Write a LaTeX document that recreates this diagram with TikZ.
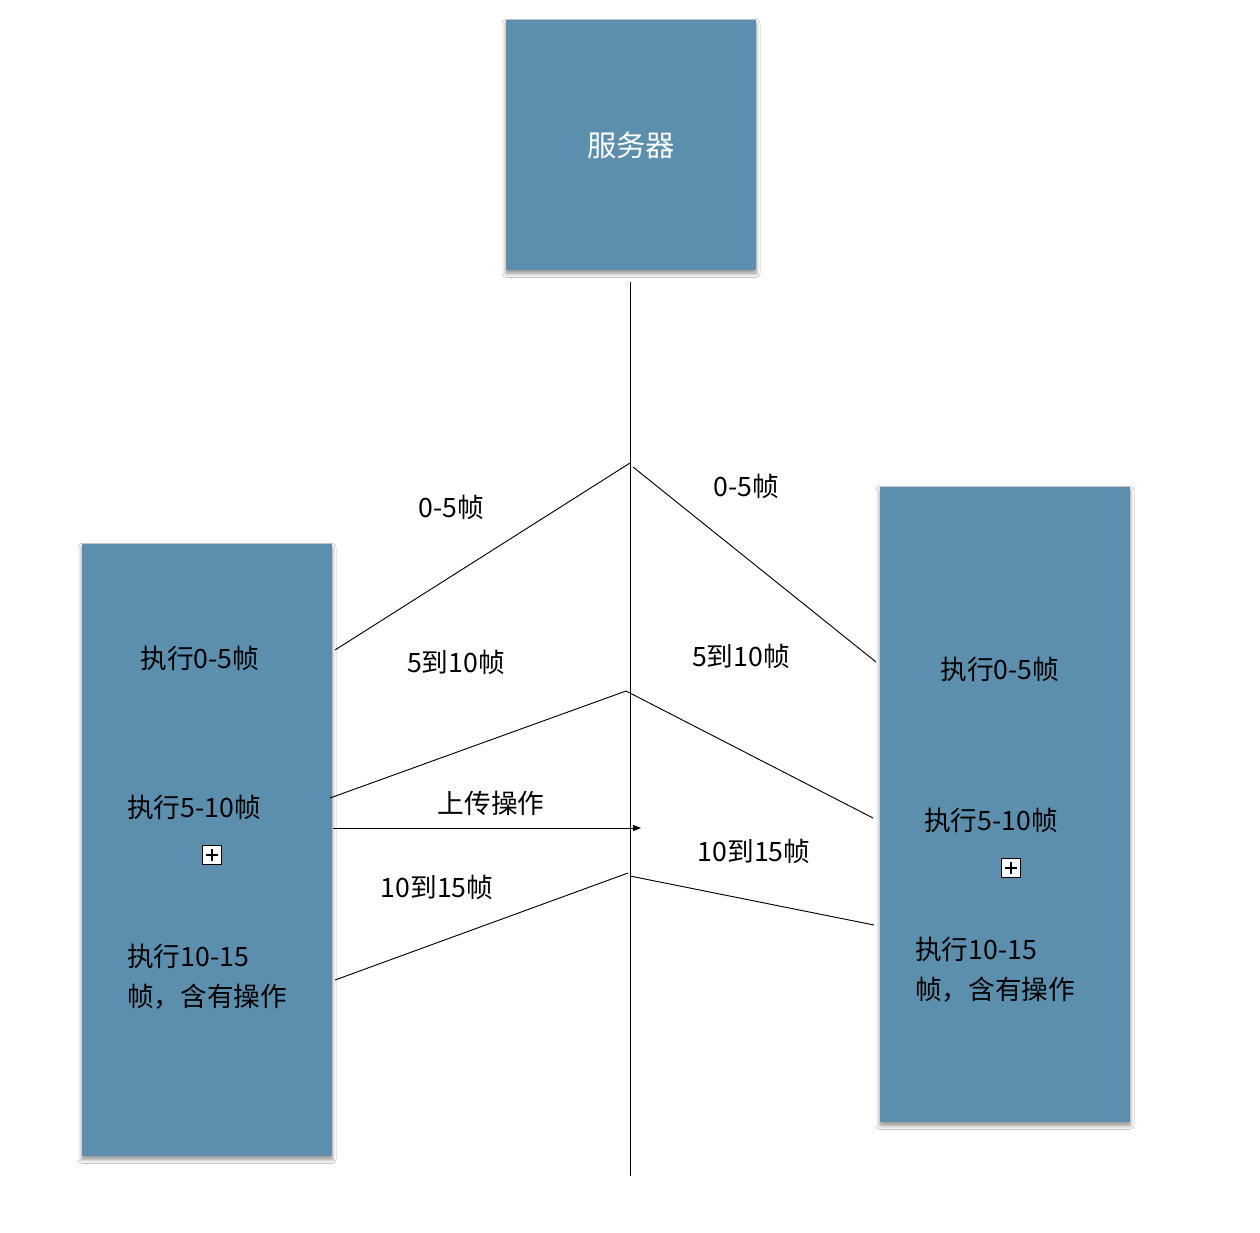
\documentclass[tikz,border=0pt]{standalone}
\usepackage{fontspec}
\setmainfont{Noto Sans CJK SC}
\usetikzlibrary{shadows.blur,arrows.meta}
\definecolor{boxblue}{HTML}{5B8FAD}
\begin{document}
\begin{tikzpicture}[x=0.75pt,y=-0.75pt,
  blk/.style={draw=none, fill=boxblue, inner sep=0pt,
    blur shadow={shadow xshift=0pt, shadow yshift=-2.5pt, shadow blur radius=3pt, shadow blur steps=6, shadow opacity=45}},
  lbl/.style={font=\fontsize{20}{30}\selectfont, inner sep=0pt},
  wire/.style={line width=0.7pt},
  plusbox/.style={draw, line width=0.9pt, fill=white, minimum size=14pt, inner sep=0pt,
    path picture={
      \draw[line width=0.9pt] ([yshift=-2.5pt]path picture bounding box.north) -- ([yshift=2.5pt]path picture bounding box.south);
      \draw[line width=0.9pt] ([xshift=2.5pt]path picture bounding box.west) -- ([xshift=-2.5pt]path picture bounding box.east);}}
]
\fill[white] (0,0) rectangle (1260,1232);
\useasboundingbox (0,0) rectangle (1260,1232);

% boxes
\node[blk, minimum width=187.5pt, minimum height=187.5pt, text=white,
  font=\fontsize{22}{26}\selectfont] (S) at (631,145) {服务器};
\node[blk, minimum width=187.5pt, minimum height=459pt] (L) at (207,850) {};
\node[blk, minimum width=187.5pt, minimum height=476.25pt] (R) at (1005,804.5) {};

% box texts
\node[lbl] (l1) at (200,658) {执行0-5帧};
\node[lbl] (l2) at (194,807) {执行5-10帧};
\node[plusbox] (lp) at (212,855) {};
\node[lbl, anchor=west, align=left] (l3) at (127,977) {执行10-15\\帧，含有操作};

\node[lbl] (r1) at (1000,669) {执行0-5帧};
\node[lbl] (r2) at (991,820) {执行5-10帧};
\node[plusbox] (rp) at (1011,868) {};
\node[lbl, anchor=west, align=left] (r3) at (915,970) {执行10-15\\帧，含有操作};

% timeline coordinates
\coordinate (vt) at (630,282);
\coordinate (vb) at (630,1176);
\coordinate (c1l) at (630,463);
\coordinate (c1r) at (633,467);
\coordinate (c2) at (626,691);
\coordinate (c3l) at (628,873);
\coordinate (c3r) at (630,876);
\coordinate (aS) at (333,828);
\coordinate (aE) at (641,828);
\coordinate (e1l) at (335,650);
\coordinate (e2l) at (330,798);
\coordinate (e3l) at (335,980);
\coordinate (e1r) at (876,662);
\coordinate (e2r) at (873,818);
\coordinate (e3r) at (874,925);

\draw[wire] (vt) -- (vb);
\draw[wire] (e1l) -- (c1l);
\draw[wire] (c1r) -- (e1r);
\draw[wire] (e2l) -- (c2) -- (e2r);
\draw[wire] (e3l) -- (c3l);
\draw[wire] (c3r) -- (e3r);
\draw[wire, -{Triangle[length=6pt,width=4.5pt]}] (aS) -- (aE);

% labels
\node[lbl] (t1) at (451,507) {0-5帧};
\node[lbl] (t2) at (746,486) {0-5帧};
\node[lbl] (t3) at (456,662) {5到10帧};
\node[lbl] (t4) at (741,656) {5到10帧};
\node[lbl] (t5) at (491,803) {上传操作};
\node[lbl] (t6) at (437,887) {10到15帧};
\node[lbl] (t7) at (754,851) {10到15帧};
\end{tikzpicture}
\end{document}
